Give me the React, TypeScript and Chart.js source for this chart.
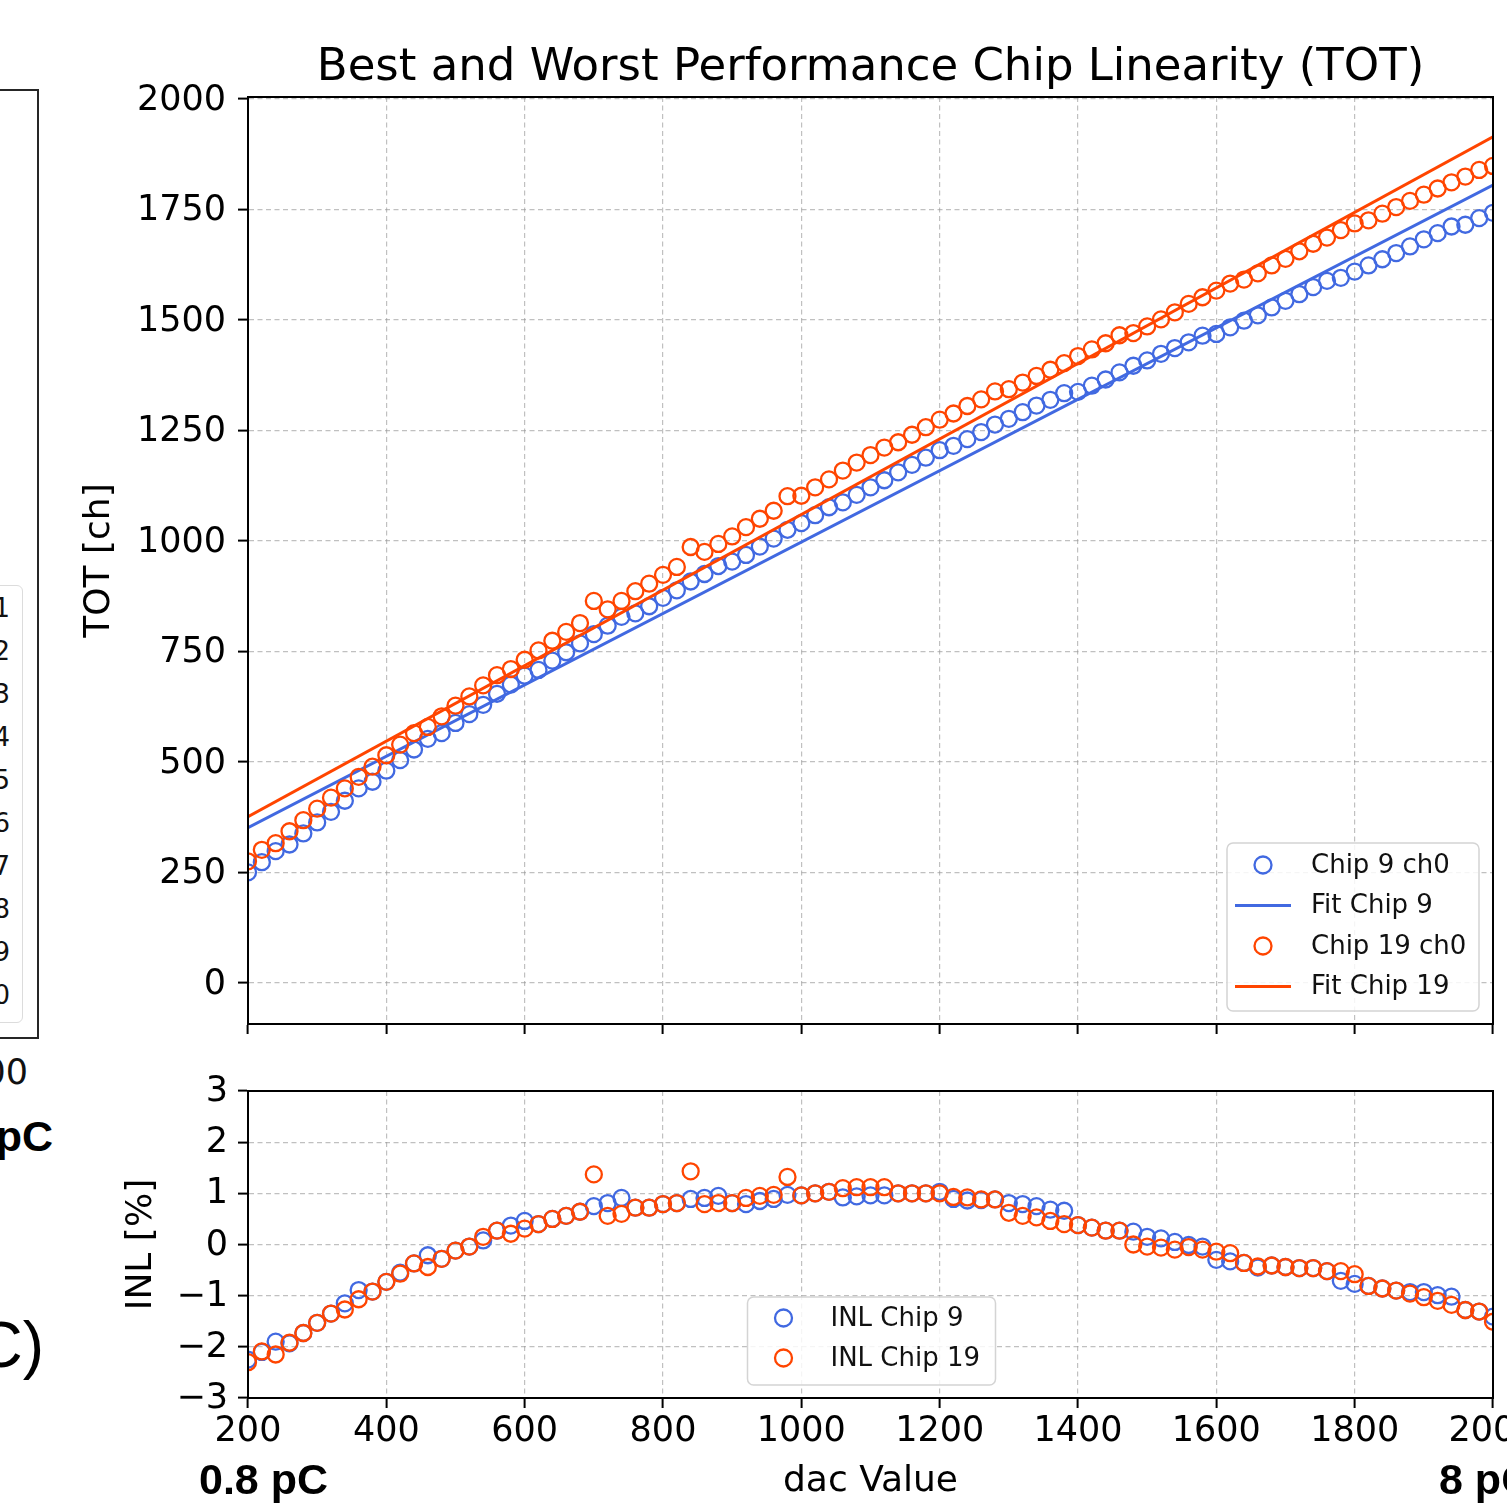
import React, { useEffect, useRef } from "react";
import { Chart, registerables } from "chart.js";

Chart.register(...registerables);

// ---------------- data ----------------
const dacValues = [
  200, 220, 240, 260, 280, 300, 320, 340, 360, 380,
  400, 420, 440, 460, 480, 500, 520, 540, 560, 580,
  600, 620, 640, 660, 680, 700, 720, 740, 760, 780,
  800, 820, 840, 860, 880, 900, 920, 940, 960, 980,
  1000, 1020, 1040, 1060, 1080, 1100, 1120, 1140, 1160, 1180,
  1200, 1220, 1240, 1260, 1280, 1300, 1320, 1340, 1360, 1380,
  1400, 1420, 1440, 1460, 1480, 1500, 1520, 1540, 1560, 1580,
  1600, 1620, 1640, 1660, 1680, 1700, 1720, 1740, 1760, 1780,
  1800, 1820, 1840, 1860, 1880, 1900, 1920, 1940, 1960, 1980,
  2000,
];

const totChip9 = [
  250, 273, 298, 313, 338, 363, 387, 412, 440, 455,
  480, 504, 528, 552, 565, 588, 608, 629, 654, 675,
  695, 708, 729, 748, 768, 789, 808, 828, 836, 852,
  871, 888, 908, 925, 943, 953, 968, 987, 1005, 1025,
  1040, 1058, 1076, 1087, 1104, 1121, 1137, 1155, 1172, 1188,
  1205, 1215, 1230, 1246, 1263, 1276, 1291, 1306, 1319, 1334,
  1337, 1351, 1365, 1381, 1396, 1408, 1423, 1436, 1449, 1464,
  1468, 1483, 1498, 1510, 1528, 1543, 1558, 1574, 1588, 1595,
  1609, 1623, 1637, 1651, 1666, 1682, 1696, 1711, 1715, 1730,
  1742,
];

const totChip19 = [
  275, 301, 316, 343, 368, 394, 419, 440, 466, 489,
  515, 539, 565, 579, 603, 627, 648, 673, 696, 710,
  731, 752, 774, 794, 814, 864, 845, 864, 886, 903,
  923, 941, 986, 975, 993, 1010, 1031, 1050, 1068, 1101,
  1102, 1121, 1139, 1159, 1177, 1194, 1211, 1223, 1240, 1257,
  1274, 1288, 1305, 1320, 1338, 1343, 1358, 1373, 1387, 1402,
  1418, 1433, 1447, 1465, 1470, 1485, 1501, 1517, 1536, 1551,
  1566, 1582, 1591, 1605, 1623, 1638, 1655, 1672, 1686, 1703,
  1718, 1725, 1740, 1755, 1769, 1783, 1797, 1811, 1824, 1839,
  1848,
];

const fitDac = [200, 2000];
const fitChip9 = [351, 1805];
const fitChip19 = [376, 1914];

const inlChip9 = [
  -2.25, -2.1, -1.9, -1.93, -1.73, -1.53, -1.35, -1.15, -0.89, -0.92,
  -0.73, -0.55, -0.37, -0.21, -0.28, -0.12, -0.04, 0.08, 0.27, 0.37,
  0.46, 0.4, 0.5, 0.56, 0.64, 0.75, 0.81, 0.91, 0.72, 0.72,
  0.79, 0.81, 0.89, 0.91, 0.95, 0.81, 0.79, 0.85, 0.89, 0.97,
  0.96, 1.0, 1.03, 0.92, 0.94, 0.96, 0.96, 1.0, 1.0, 1.0,
  1.03, 0.89, 0.86, 0.87, 0.88, 0.81, 0.79, 0.75, 0.68, 0.66,
  0.38, 0.33, 0.27, 0.27, 0.25, 0.15, 0.12, 0.05, -0.01, -0.04,
  -0.3, -0.33, -0.36, -0.45, -0.41, -0.44, -0.46, -0.46, -0.52, -0.71,
  -0.77, -0.81, -0.86, -0.9, -0.93, -0.93, -0.99, -1.02, -1.28, -1.31,
  -1.41,
];

const inlChip19 = [
  -2.3, -2.09, -2.15, -1.92, -1.73, -1.53, -1.35, -1.27, -1.07, -0.92,
  -0.73, -0.57, -0.37, -0.44, -0.28, -0.12, -0.04, 0.15, 0.27, 0.21,
  0.31, 0.4, 0.5, 0.56, 0.64, 1.37, 0.56, 0.6, 0.72, 0.72,
  0.79, 0.81, 1.43, 0.79, 0.81, 0.81, 0.91, 0.95, 0.97, 1.32,
  0.96, 1.0, 1.03, 1.1, 1.12, 1.12, 1.12, 1.0, 1.0, 1.0,
  1.0, 0.93, 0.92, 0.88, 0.88, 0.62, 0.56, 0.53, 0.46, 0.4,
  0.38, 0.33, 0.27, 0.27, 0.0, -0.04, -0.06, -0.1, -0.05, -0.1,
  -0.14, -0.17, -0.36, -0.43, -0.41, -0.44, -0.46, -0.46, -0.52, -0.52,
  -0.58, -0.81, -0.86, -0.9, -0.96, -1.03, -1.1, -1.18, -1.28, -1.31,
  -1.51,
];

const dacTicks = [200, 400, 600, 800, 1000, 1200, 1400, 1600, 1800, 2000];
const totTicks = [0, 250, 500, 750, 1000, 1250, 1500, 1750, 2000];
const inlTicks = [-3, -2, -1, 0, 1, 2, 3];

const leftLegendLabels = ["ch 1", "ch 2", "ch 3", "ch 4", "ch 5", "ch 6", "ch 7", "ch 8", "ch 9", "ch 10"];

// ---------------- styles ----------------
const FONT = "'DejaVu Sans', sans-serif";
const BLUE = "#4169E1";
const ORANGE = "#FF4500";
const GRID = "rgba(150,150,150,0.6)";
const CANVAS_W = 1600;
const TOP_H = 1060;
const BOT_H = 449;
const PLOT_LEFT = 248;
const PLOT_RIGHT = 1493;

const plainFmt = (v: any) => {
  const n = Number(v);
  return n < 0 ? "\u2212" + Math.abs(n) : String(n);
};

const framePlugin = {
  id: "frame",
  afterDatasetsDraw(chart: any) {
    const { ctx, chartArea: a } = chart;
    ctx.save();
    ctx.strokeStyle = "#000";
    ctx.lineWidth = 2;
    ctx.strokeRect(a.left, a.top, a.right - a.left, a.bottom - a.top);
    ctx.restore();
  },
};

function boxLegend(cfg: any) {
  return {
    id: "boxLegend",
    afterDraw(chart: any) {
      const { ctx, chartArea: a } = chart;
      const ds = chart.data.datasets;
      const w = cfg.width;
      const h = cfg.height;
      const left = cfg.anchor === "right" ? a.right - cfg.marginX - w : (a.left + a.right) / 2 - w / 2 + cfg.shiftX;
      const top = a.bottom - cfg.marginY - h;
      ctx.save();
      ctx.beginPath();
      ctx.roundRect(left, top, w, h, 6);
      ctx.fillStyle = "rgba(255,255,255,0.85)";
      ctx.fill();
      ctx.strokeStyle = "#d4d4d4";
      ctx.lineWidth = 1.5;
      ctx.stroke();
      ds.forEach((d: any, i: number) => {
        const y = top + cfg.firstRow + i * cfg.rowGap;
        const cx = left + cfg.handleX;
        ctx.strokeStyle = d.borderColor;
        ctx.setLineDash([]);
        if (d.showLine) {
          ctx.lineWidth = 3;
          ctx.beginPath();
          ctx.moveTo(cx - 28, y);
          ctx.lineTo(cx + 28, y);
          ctx.stroke();
        } else {
          ctx.lineWidth = 2.3;
          ctx.beginPath();
          ctx.arc(cx, y, 8.5, 0, Math.PI * 2);
          ctx.stroke();
        }
        ctx.fillStyle = "#111";
        ctx.font = `26px ${FONT}`;
        ctx.textBaseline = "middle";
        ctx.textAlign = "left";
        ctx.fillText(d.label, left + cfg.textX, y + 1);
      });
      ctx.restore();
    },
  };
}

const gridOpts = {
  color: GRID,
  lineWidth: 1.2,
  tickColor: "#000",
  tickWidth: 2,
  tickLength: 10,
  drawTicks: true,
};
const borderOpts = { display: true, color: "#000", width: 2, dash: [5, 3.5] };

function scatterSet(label: string, ys: number[], color: string, order: number) {
  return {
    label,
    data: dacValues.map((x, i) => ({ x, y: ys[i] })),
    showLine: false,
    borderColor: color,
    pointBorderColor: color,
    backgroundColor: "rgba(0,0,0,0)",
    pointBackgroundColor: "rgba(0,0,0,0)",
    pointRadius: 8,
    pointBorderWidth: 2.3,
    pointHoverRadius: 8,
    clip: 0,
    order,
  };
}

function fitSet(label: string, ys: number[], color: string, order: number) {
  return {
    label,
    data: fitDac.map((x, i) => ({ x, y: ys[i] })),
    showLine: true,
    borderColor: color,
    backgroundColor: color,
    borderWidth: 3,
    pointRadius: 0,
    pointHoverRadius: 0,
    clip: 0,
    order,
  };
}

function topConfig(): any {
  return {
    type: "scatter",
    data: {
      datasets: [
        scatterSet("Chip 9 ch0", totChip9, BLUE, 4),
        fitSet("Fit Chip 9", fitChip9, BLUE, 3),
        scatterSet("Chip 19 ch0", totChip19, ORANGE, 2),
        fitSet("Fit Chip 19", fitChip19, ORANGE, 1),
      ],
    },
    options: {
      responsive: false,
      animation: false,
      devicePixelRatio: 1,
      events: [],
      layout: { padding: { left: 0, right: CANVAS_W - PLOT_RIGHT, top: 0, bottom: 0 } },
      plugins: {
        legend: { display: false },
        tooltip: { enabled: false },
        title: {
          display: true,
          fullSize: false,
          text: "Best and Worst Performance Chip Linearity (TOT)",
          color: "#000",
          font: { family: FONT, size: 45, weight: "normal", lineHeight: 1.2 },
          padding: { top: 41, bottom: 2 },
        },
      },
      scales: {
        x: {
          type: "linear",
          min: 200,
          max: 2000,
          afterBuildTicks: (s: any) => {
            s.ticks = dacTicks.map((v) => ({ value: v }));
          },
          ticks: { display: false },
          grid: gridOpts,
          border: borderOpts,
          afterFit: (s: any) => {
            s.height = TOP_H - 1024;
          },
        },
        y: {
          type: "linear",
          min: -93,
          max: 2004,
          afterBuildTicks: (s: any) => {
            s.ticks = totTicks.map((v) => ({ value: v }));
          },
          ticks: { color: "#000", font: { family: FONT, size: 35 }, padding: 12, labelOffset: 2, callback: plainFmt },
          grid: gridOpts,
          border: borderOpts,
          title: {
            display: true,
            text: "TOT [ch]",
            color: "#000",
            font: { family: FONT, size: 36 },
            padding: { top: 78, bottom: 78 },
          },
          afterFit: (s: any) => {
            s.width = PLOT_LEFT;
          },
        },
      },
    },
    plugins: [
      framePlugin,
      boxLegend({ anchor: "right", width: 252, height: 168, marginX: 14, marginY: 13, firstRow: 22, rowGap: 40.5, handleX: 36, textX: 84, shiftX: 0 }),
    ],
  };
}

function bottomConfig(): any {
  return {
    type: "scatter",
    data: {
      datasets: [
        scatterSet("INL Chip 9", inlChip9, BLUE, 2),
        scatterSet("INL Chip 19", inlChip19, ORANGE, 1),
      ],
    },
    options: {
      responsive: false,
      animation: false,
      devicePixelRatio: 1,
      events: [],
      layout: { padding: { left: 0, right: CANVAS_W - PLOT_RIGHT, top: 28, bottom: 0 } },
      plugins: { legend: { display: false }, tooltip: { enabled: false }, title: { display: false } },
      scales: {
        x: {
          type: "linear",
          min: 200,
          max: 2000,
          afterBuildTicks: (s: any) => {
            s.ticks = dacTicks.map((v) => ({ value: v }));
          },
          ticks: { color: "#000", font: { family: FONT, size: 35 }, padding: 3, maxRotation: 0, autoSkip: false, callback: plainFmt },
          grid: gridOpts,
          border: borderOpts,
          title: {
            display: true,
            text: "dac Value",
            color: "#000",
            font: { family: FONT, size: 36 },
            padding: { top: 6, bottom: 6 },
          },
          afterFit: (s: any) => {
            s.height = 111;
          },
        },
        y: {
          type: "linear",
          min: -3,
          max: 3,
          afterBuildTicks: (s: any) => {
            s.ticks = inlTicks.map((v) => ({ value: v }));
          },
          ticks: { color: "#000", font: { family: FONT, size: 35 }, padding: 10, labelOffset: 1, callback: plainFmt },
          grid: gridOpts,
          border: borderOpts,
          title: {
            display: true,
            text: "INL [%]",
            color: "#000",
            font: { family: FONT, size: 36 },
            padding: { top: 120, bottom: 120 },
          },
          afterFit: (s: any) => {
            s.width = PLOT_LEFT;
          },
        },
      },
    },
    plugins: [
      framePlugin,
      boxLegend({ anchor: "center", width: 248, height: 88, marginX: 0, marginY: 13, firstRow: 21, rowGap: 40, handleX: 36, textX: 83, shiftX: 1 }),
    ],
  };
}

const textAbs = (extra: React.CSSProperties): React.CSSProperties => ({
  position: "absolute",
  whiteSpace: "nowrap",
  margin: 0,
  color: "#000",
  ...extra,
});

export default function App() {
  const topRef = useRef<HTMLCanvasElement>(null);
  const botRef = useRef<HTMLCanvasElement>(null);

  useEffect(() => {
    const top = new Chart(topRef.current as HTMLCanvasElement, topConfig());
    const bot = new Chart(botRef.current as HTMLCanvasElement, bottomConfig());
    return () => {
      top.destroy();
      bot.destroy();
    };
  }, []);

  return (
    <div style={{ position: "absolute", left: 0, top: 0, width: 1507, height: 1509, overflow: "hidden", background: "#fff" }}>
      {/* fragment of neighbouring figure on the left */}
      <div
        style={{
          position: "absolute",
          left: -100,
          top: 89,
          width: 139,
          height: 950,
          boxSizing: "border-box",
          border: "2px solid #262626",
        }}
      />
      <div
        style={{
          position: "absolute",
          left: -220,
          top: 585,
          width: 243,
          height: 438,
          boxSizing: "border-box",
          border: "1.5px solid #dcdcdc",
          borderRadius: 6,
        }}
      />
      {leftLegendLabels.map((t, i) => (
        <div
          key={t}
          style={textAbs({
            right: 1507 - 10,
            top: 608 + i * 43 - 16,
            font: `26px ${FONT}`,
            lineHeight: "32px",
            color: "#111",
          })}
        >
          {t}
        </div>
      ))}
      <div style={textAbs({ right: 1507 - 28, top: 1072 - 21, font: `35px ${FONT}`, lineHeight: "42px", color: "#111" })}>2000</div>
      <div style={textAbs({ right: 1507 - 53, top: 1136 - 26, font: `bold 43px 'Liberation Sans', Arial, sans-serif`, lineHeight: "52px" })}>8 pC</div>
      <div style={textAbs({ right: 1507 - 44, top: 1345 - 38, font: `64px 'Liberation Sans', Arial, sans-serif`, lineHeight: "77px" })}>(pC)</div>

      <canvas
        ref={topRef}
        width={CANVAS_W}
        height={TOP_H}
        style={{ position: "absolute", left: 0, top: 0, width: CANVAS_W, height: TOP_H }}
      />
      <canvas
        ref={botRef}
        width={CANVAS_W}
        height={BOT_H}
        style={{ position: "absolute", left: 0, top: TOP_H, width: CANVAS_W, height: BOT_H }}
      />

      <div style={textAbs({ left: 199, top: 1479 - 26, font: `bold 43px 'Liberation Sans', Arial, sans-serif`, lineHeight: "52px" })}>0.8 pC</div>
      <div style={textAbs({ left: 1439, top: 1479 - 26, font: `bold 43px 'Liberation Sans', Arial, sans-serif`, lineHeight: "52px" })}>8 pC</div>
    </div>
  );
}
